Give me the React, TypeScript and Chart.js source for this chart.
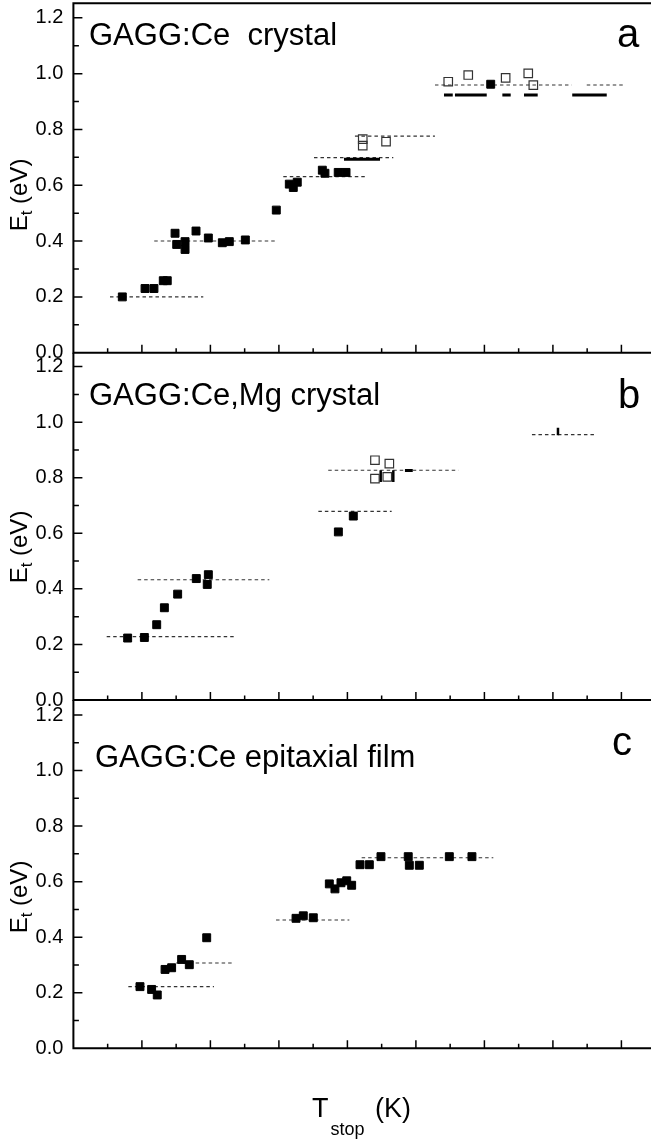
import React, { useEffect, useRef } from "react";
import { Chart, registerables } from "chart.js";

Chart.register(...registerables);

const FONT = "'Liberation Sans', Arial, Helvetica, sans-serif";
const X_MAX = 421.6;

// ---------- Panel a: GAGG:Ce crystal ----------
const aFilledT = [35.7, 52.3, 58.8, 65.6, 68.5, 74.2, 75.4, 81.5, 81.5, 89.5, 98.5, 108.7, 113.8, 125.5, 148.1, 157.6, 163.4, 160.5, 181.7, 183.6, 193.3, 199.0, 304.6];
const aFilledE = [0.200, 0.230, 0.230, 0.258, 0.258, 0.428, 0.388, 0.398, 0.370, 0.436, 0.411, 0.394, 0.398, 0.404, 0.511, 0.604, 0.611, 0.592, 0.654, 0.643, 0.646, 0.646, 0.962];
const aOpenT = [211.2, 211.2, 228.2, 273.6, 288.2, 315.5, 332.0, 335.7];
const aOpenE = [0.765, 0.742, 0.756, 0.971, 0.995, 0.985, 1.001, 0.959];
// [E level, T start, T end]
const aDashed: number[][] = [[0.2, 26.7, 94.8], [0.4, 59, 147.2], [0.631, 153.2, 214.1], [0.699, 175.6, 233.5], [0.776, 205.5, 263.9], [0.959, 263.9, 363.7], [0.959, 374.7, 402.6]];
const aBars: number[][] = [[0.693, 197.5, 223.8], [0.923, 270.5, 276.9], [0.923, 278.5, 301.7], [0.923, 313.1, 319.2], [0.923, 328.9, 338.9], [0.923, 364.1, 389.3]];
const aVBars: number[][] = [];

// ---------- Panel b: GAGG:Ce,Mg crystal ----------
const bFilledT = [39.6, 51.8, 60.8, 66.4, 76.1, 89.7, 98.5, 97.7, 193.4, 204.3];
const bFilledE = [0.223, 0.225, 0.271, 0.332, 0.381, 0.437, 0.451, 0.416, 0.605, 0.662];
const bOpenT = [220.1, 230.6, 220.1, 229.1];
const bOpenE = [0.863, 0.851, 0.797, 0.803];
const bDashed: number[][] = [[0.228, 24.3, 118], [0.433, 46.9, 143], [0.679, 178.8, 232.3], [0.827, 186, 281], [0.955, 334.7, 381]];
const bBars: number[][] = [[0.826, 242, 247.7]];
// [T, E from, E to]
const bVBars: number[][] = [[224.3, 0.785, 0.827], [233.5, 0.785, 0.827], [353.7, 0.953, 0.98]];

// ---------- Panel c: GAGG:Ce epitaxial film ----------
const cFilledT = [48.6, 57.1, 61.2, 66.9, 71.7, 79.0, 84.6, 97.3, 162.5, 167.8, 175.1, 186.8, 190.9, 195.3, 199.5, 203.1, 209.2, 216.0, 224.5, 244.4, 245.2, 252.5, 274.4, 290.9];
const cFilledE = [0.222, 0.212, 0.192, 0.284, 0.290, 0.320, 0.301, 0.398, 0.468, 0.477, 0.470, 0.592, 0.574, 0.596, 0.603, 0.587, 0.661, 0.661, 0.690, 0.690, 0.659, 0.659, 0.690, 0.690];
const cOpenT: number[] = [];
const cOpenE: number[] = [];
const cDashed: number[][] = [[0.222, 40.1, 102.6], [0.307, 75, 116], [0.462, 147.9, 201.4], [0.686, 210.4, 306.5]];
const cBars: number[][] = [];
const cVBars: number[][] = [];

const yTickLabels = ["0.0", "0.2", "0.4", "0.6", "0.8", "1.0", "1.2"];

type PanelProps = {
  top: number;
  height: number;
  areaTop: number;
  areaBottom: number;
  yMax: number;
  filledT: number[];
  filledE: number[];
  openT: number[];
  openE: number[];
  dashed: number[][];
  bars: number[][];
  vbars: number[][];
  title: string;
  titleX: number;
  titleY: number;
  letter: string;
  letterX: number;
  letterY: number;
  yTitleY: number;
  topBorder: boolean;
  xTitle: boolean;
};

function Panel(p: PanelProps) {
  const ref = useRef<HTMLCanvasElement | null>(null);
  useEffect(() => {
    if (!ref.current) return;
    const datasets: any[] = [];
    datasets.push({
      data: p.filledT.map((t, i) => ({ x: t, y: p.filledE[i] })),
      pointStyle: "rect",
      pointRadius: 5.6,
      backgroundColor: "#000",
      borderColor: "#000",
      borderWidth: 1,
      showLine: false,
    });
    datasets.push({
      data: p.openT.map((t, i) => ({ x: t, y: p.openE[i] })),
      pointStyle: "rect",
      pointRadius: 6,
      backgroundColor: "rgba(255,255,255,0)",
      borderColor: "#333",
      borderWidth: 1.2,
      showLine: false,
    });
    p.bars.forEach((b) =>
      datasets.push({
        data: [{ x: b[1], y: b[0] }, { x: b[2], y: b[0] }],
        showLine: true,
        pointRadius: 0,
        borderColor: "#000",
        borderWidth: 3,
      })
    );
    p.vbars.forEach((b) =>
      datasets.push({
        data: [{ x: b[0], y: b[1] }, { x: b[0], y: b[2] }],
        showLine: true,
        pointRadius: 0,
        borderColor: "#000",
        borderWidth: 2.5,
      })
    );
    p.dashed.forEach((d) =>
      datasets.push({
        data: [{ x: d[1], y: d[0] }, { x: d[2], y: d[0] }],
        showLine: true,
        pointRadius: 0,
        borderColor: "#333",
        borderWidth: 1.1,
        borderDash: [3.5, 3],
      })
    );

    const frame = {
      id: "frame",
      afterDraw(chart: any) {
        const ctx = chart.ctx as CanvasRenderingContext2D;
        const { left, right, top, bottom } = chart.chartArea;
        const xs = chart.scales.x;
        const ys = chart.scales.y;
        ctx.save();
        ctx.strokeStyle = "#000";
        ctx.lineWidth = 2;
        ctx.beginPath();
        ctx.moveTo(left, top);
        ctx.lineTo(left, bottom);
        ctx.lineTo(right + 2, bottom);
        if (p.topBorder) {
          ctx.moveTo(left - 1, top);
          ctx.lineTo(right + 2, top);
        }
        ctx.stroke();
        ctx.lineWidth = 1.5;
        ctx.beginPath();
        for (let v = 25; v < X_MAX; v += 25) {
          const px = xs.getPixelForValue(v);
          const len = v % 50 === 0 ? 8 : 4.5;
          ctx.moveTo(px, bottom);
          ctx.lineTo(px, bottom - len);
        }
        ys.ticks.forEach((t: any) => {
          if (t.value <= 0.001) return;
          const py = ys.getPixelForValue(t.value);
          const r = Math.round(t.value * 10);
          const len = r % 2 === 0 ? 9 : 5.5;
          ctx.moveTo(left, py);
          ctx.lineTo(left + len, py);
        });
        ctx.stroke();

        ctx.fillStyle = "#000";
        ctx.textBaseline = "alphabetic";
        ctx.textAlign = "left";
        ctx.font = `31px ${FONT}`;
        ctx.fillText(p.title, p.titleX, p.titleY - p.top);
        ctx.font = `40px ${FONT}`;
        ctx.fillText(p.letter, p.letterX, p.letterY - p.top);

        // y title E_t (eV), rotated
        ctx.save();
        ctx.translate(27, p.yTitleY - p.top);
        ctx.rotate(-Math.PI / 2);
        ctx.font = `24px ${FONT}`;
        const wE = ctx.measureText("E").width;
        const wRest = ctx.measureText(" (eV)").width;
        ctx.font = `17px ${FONT}`;
        const wt = ctx.measureText("t").width;
        const total = wE + wt + wRest;
        let sx = -total / 2;
        ctx.font = `24px ${FONT}`;
        ctx.fillText("E", sx, 0);
        sx += wE;
        ctx.font = `17px ${FONT}`;
        ctx.fillText("t", sx, 5);
        sx += wt;
        ctx.font = `24px ${FONT}`;
        ctx.fillText(" (eV)", sx, 0);
        ctx.restore();

        if (p.xTitle) {
          let x = 312;
          ctx.font = `27px ${FONT}`;
          ctx.fillText("T", x, 1116.7 - p.top);
          x += ctx.measureText("T").width + 2;
          ctx.font = `18px ${FONT}`;
          ctx.fillText("stop", x, 1135 - p.top);
          x += ctx.measureText("stop").width + 3;
          ctx.font = `27px ${FONT}`;
          ctx.fillText(" (K)", x, 1116.7 - p.top);
        }
        ctx.restore();
      },
    };

    const chart = new Chart(ref.current, {
      type: "scatter",
      data: { datasets },
      options: {
        animation: false,
        responsive: false,
        events: [],
        layout: {
          autoPadding: false,
          padding: { top: p.areaTop - p.top, bottom: p.top + p.height - p.areaBottom, left: 0, right: 0 },
        },
        plugins: { legend: { display: false }, tooltip: { enabled: false } },
        scales: {
          x: { type: "linear", display: false, min: 0, max: X_MAX },
          y: {
            type: "linear",
            position: "left",
            min: 0,
            max: p.yMax,
            afterFit: (s: any) => {
              s.width = 73.4;
              s.paddingTop = 0;
              s.paddingBottom = 0;
              s.paddingLeft = 0;
              s.paddingRight = 0;
            },
            grid: { display: false, drawTicks: false },
            border: { display: false },
            ticks: {
              stepSize: 0.1,
              autoSkip: false,
              includeBounds: false,
              padding: 10,
              color: "#000",
              font: { family: FONT, size: 20 },
              callback: (v: any) => {
                const r = Math.round(Number(v) * 10);
                return r % 2 === 0 ? yTickLabels[r / 2] ?? "" : "";
              },
            },
          },
        },
      } as any,
      plugins: [frame],
    });
    return () => chart.destroy();
  }, []);
  return (
    <canvas
      ref={ref}
      width={651}
      height={p.height}
      style={{ position: "absolute", left: 0, top: p.top, width: 651, height: p.height }}
    />
  );
}

export default function App() {
  return (
    <div style={{ position: "absolute", left: 0, top: 0, width: 651, height: 1146, background: "#fff", overflow: "hidden" }}>
      <Panel
        top={0} height={380} areaTop={3.3} areaBottom={352.7} yMax={1.252}
        filledT={aFilledT} filledE={aFilledE} openT={aOpenT} openE={aOpenE}
        dashed={aDashed} bars={aBars} vbars={aVBars}
        title={"GAGG:Ce  crystal"} titleX={89} titleY={45}
        letter="a" letterX={617} letterY={47} yTitleY={195}
        topBorder={true} xTitle={false}
      />
      <Panel
        top={340} height={380} areaTop={352.7} areaBottom={700} yMax={1.25}
        filledT={bFilledT} filledE={bFilledE} openT={bOpenT} openE={bOpenE}
        dashed={bDashed} bars={bBars} vbars={bVBars}
        title={"GAGG:Ce,Mg crystal"} titleX={89} titleY={405}
        letter="b" letterX={618} letterY={408} yTitleY={547}
        topBorder={false} xTitle={false}
      />
      <Panel
        top={690} height={456} areaTop={700} areaBottom={1048.3} yMax={1.254}
        filledT={cFilledT} filledE={cFilledE} openT={cOpenT} openE={cOpenE}
        dashed={cDashed} bars={cBars} vbars={cVBars}
        title={"GAGG:Ce epitaxial film"} titleX={95} titleY={767}
        letter="c" letterX={612} letterY={755} yTitleY={897}
        topBorder={false} xTitle={true}
      />
    </div>
  );
}
